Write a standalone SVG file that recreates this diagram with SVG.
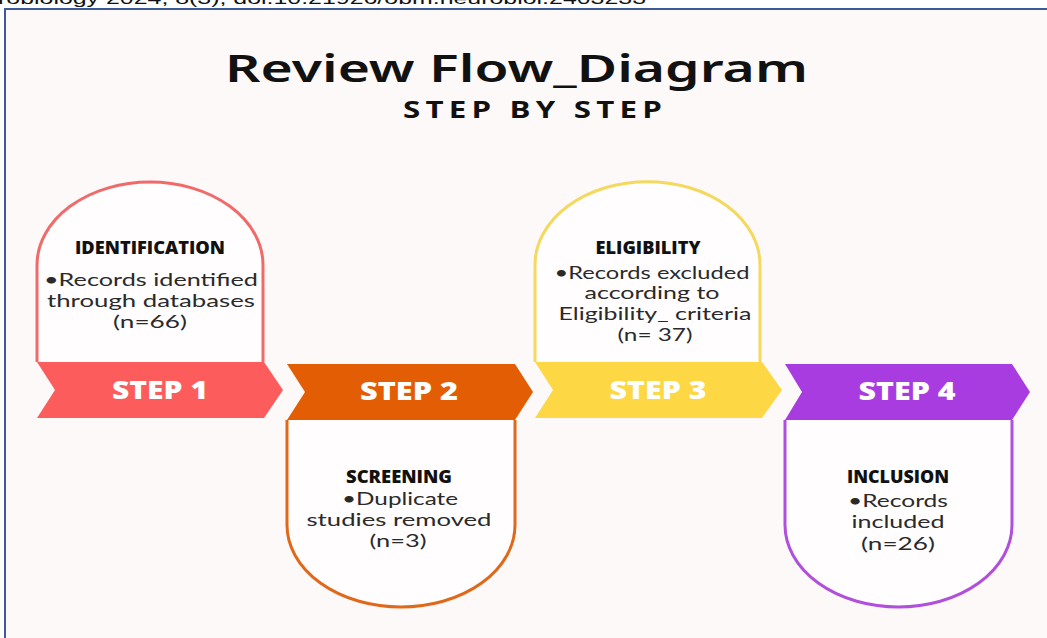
<svg xmlns="http://www.w3.org/2000/svg" width="1047" height="638" viewBox="0 0 1047 638">
  <style>
    .hdr { font-family: "Liberation Sans", Arial, sans-serif; font-size: 17px; fill: #111; }
    .title { font-family: "Noto Sans", "Open Sans", sans-serif; font-weight: 600; font-size: 38px; fill: #111; }
    .sub { font-family: "Open Sans", "Noto Sans", sans-serif; font-weight: 700; font-size: 24px; fill: #111; }
    .body { fill: #fffdfd; stroke-width: 3; }
    .step { font-family: "Open Sans", "Noto Sans", sans-serif; font-weight: 800; font-size: 25px; fill: #fff; text-anchor: middle; }
    .head { font-family: "Open Sans", "Noto Sans", sans-serif; font-weight: 800; font-size: 17px; fill: #111; text-anchor: middle; }
    .txt { font-family: "Lato", "Noto Sans", sans-serif; font-size: 18px; fill: #2a2a2a; text-anchor: middle; }
  </style>

  <!-- page background and frame -->
  <rect x="0" y="0" width="1047" height="638" fill="#ffffff"/>
  <rect x="5" y="9" width="1050" height="640" fill="#fdf9f8" stroke="#3a5a98" stroke-width="2"/>
  <text class="hdr" x="-2" y="4" textLength="648" lengthAdjust="spacingAndGlyphs">robiology 2024; 8(3), doi:10.21926/obm.neurobiol.2403233</text>

  <!-- title -->
  <text class="title" x="225" y="82" textLength="583" lengthAdjust="spacingAndGlyphs">Review Flow_Diagram</text>
  <text class="sub" x="403" y="118" textLength="264" lengthAdjust="spacingAndGlyphs" letter-spacing="4">STEP BY STEP</text>

  <!-- step 1: identification -->
  <g id="step1">
    <path class="body" stroke="#f06a6a" d="M37,362 V265 A113,83 0 0 1 263,265 V362"/>
    <path fill="#fd5c5c" d="M37,362 H264 L283,390 L264,418 H37 L55,390 Z"/>
    <text class="step" x="160" y="399" textLength="96" lengthAdjust="spacingAndGlyphs">STEP 1</text>
    <text class="head" x="150" y="254" textLength="150" lengthAdjust="spacingAndGlyphs">IDENTIFICATION</text>
    <text class="txt" x="151" y="286" textLength="214" lengthAdjust="spacingAndGlyphs">•Records identified</text>
    <text class="txt" x="151" y="307" textLength="208" lengthAdjust="spacingAndGlyphs">through databases</text>
    <text class="txt" x="150" y="328" textLength="74" lengthAdjust="spacingAndGlyphs">(n=66)</text>
  </g>

  <!-- step 2: screening -->
  <g id="step2">
    <path class="body" stroke="#e0681a" d="M287,420 V525 A114,82 0 0 0 515,525 V420"/>
    <path fill="#e35d05" d="M287,364 H515 L533,392 L515,420 H287 L305,392 Z"/>
    <text class="step" x="409" y="400" textLength="98" lengthAdjust="spacingAndGlyphs">STEP 2</text>
    <text class="head" x="399" y="483" textLength="106" lengthAdjust="spacingAndGlyphs">SCREENING</text>
    <text class="txt" x="400" y="505" textLength="116" lengthAdjust="spacingAndGlyphs">•Duplicate</text>
    <text class="txt" x="399" y="526" textLength="185" lengthAdjust="spacingAndGlyphs">studies removed</text>
    <text class="txt" x="398" y="547" textLength="57" lengthAdjust="spacingAndGlyphs">(n=3)</text>
  </g>

  <!-- step 3: eligibility -->
  <g id="step3">
    <path class="body" stroke="#f5d85e" d="M535,362 V265 A112,83 0 0 1 760,265 V362"/>
    <path fill="#fdd744" d="M535,362 H762 L782,390 L762,418 H535 L553,390 Z"/>
    <text class="step" x="658" y="399" textLength="97" lengthAdjust="spacingAndGlyphs">STEP 3</text>
    <text class="head" x="648" y="254" textLength="105" lengthAdjust="spacingAndGlyphs">ELIGIBILITY</text>
    <text class="txt" x="652" y="279" textLength="195" lengthAdjust="spacingAndGlyphs">•Records excluded</text>
    <text class="txt" x="652" y="299" textLength="135" lengthAdjust="spacingAndGlyphs">according to</text>
    <text class="txt" x="655" y="320" textLength="193" lengthAdjust="spacingAndGlyphs">Eligibility_ criteria</text>
    <text class="txt" x="655" y="341" textLength="75" lengthAdjust="spacingAndGlyphs">(n= 37)</text>
  </g>

  <!-- step 4: inclusion -->
  <g id="step4">
    <path class="body" stroke="#b04fdc" d="M785,420 V525 A113.5,82 0 0 0 1012,525 V420"/>
    <path fill="#a93ce0" d="M785,364 H1012 L1030,392 L1012,420 H785 L802,392 Z"/>
    <text class="step" x="907" y="400" textLength="97" lengthAdjust="spacingAndGlyphs">STEP 4</text>
    <text class="head" x="898" y="483" textLength="102" lengthAdjust="spacingAndGlyphs">INCLUSION</text>
    <text class="txt" x="898" y="507" textLength="100" lengthAdjust="spacingAndGlyphs">•Records</text>
    <text class="txt" x="898" y="528" textLength="93" lengthAdjust="spacingAndGlyphs">included</text>
    <text class="txt" x="898" y="550" textLength="74" lengthAdjust="spacingAndGlyphs">(n=26)</text>
  </g>

  <!-- flow is carried by the chevron ribbons; no separate connectors -->
  <g id="connectors"/>
</svg>
